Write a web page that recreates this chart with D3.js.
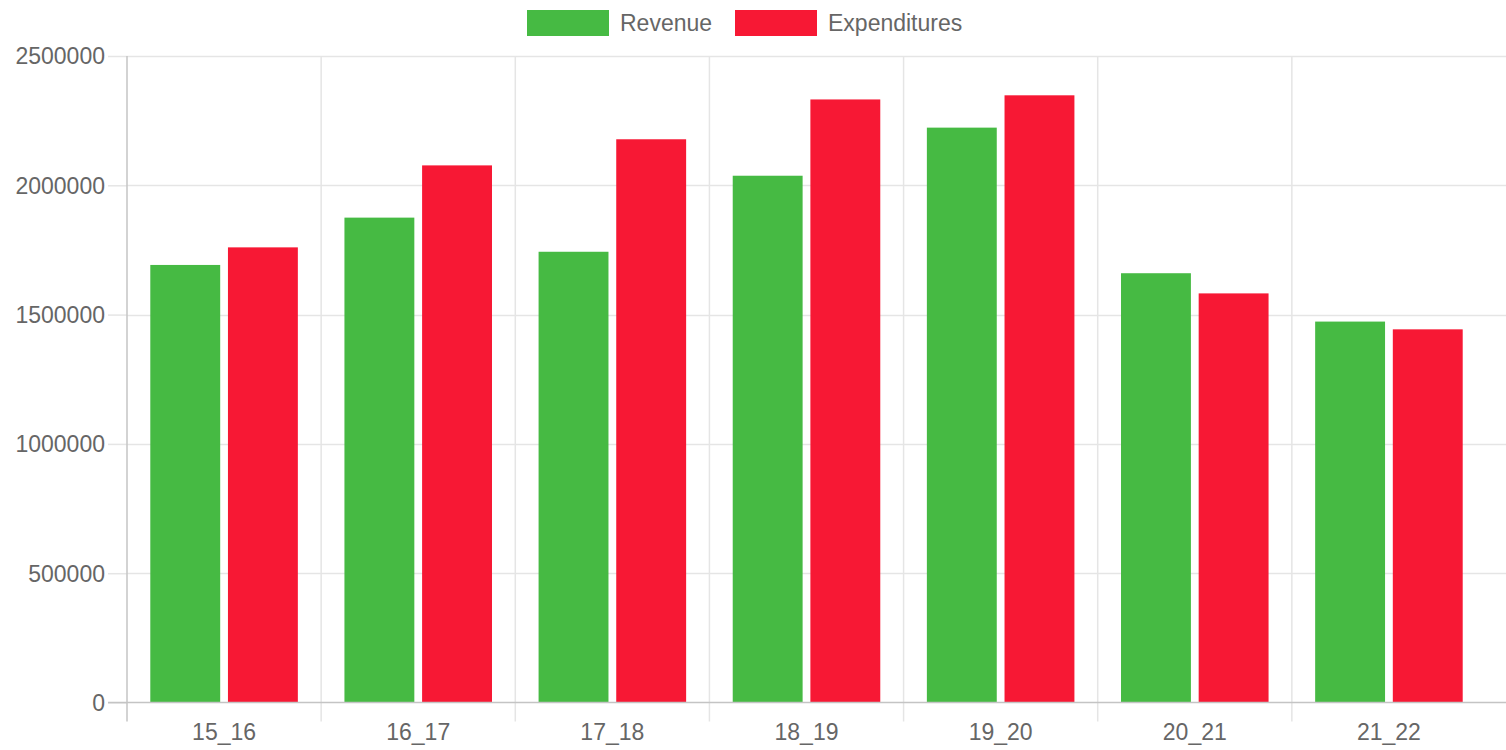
<!DOCTYPE html>
<html>
<head>
<meta charset="utf-8">
<script src="https://cdn.jsdelivr.net/npm/d3@7"></script>
<style>
  body { margin: 0; background: #fff; }
  svg { display: block; }
  text { font-family: "Liberation Sans", Arial, sans-serif; fill: #666; }
</style>
</head>
<body>
<div id="chart"></div>
<script>
// values
const categories = ["15_16", "16_17", "17_18", "18_19", "19_20", "20_21", "21_22"];
const seriesNames = ["Revenue", "Expenditures"];
const revenue = [1692000, 1875000, 1743000, 2037000, 2223000, 1660000, 1473000];
const expenditures = [1760000, 2077000, 2178000, 2332000, 2348000, 1582000, 1443000];
const yTicks = [0, 500000, 1000000, 1500000, 2000000, 2500000];
const colors = ["#46BA43", "#F71834"];

const width = 1506, height = 750;
const margin = {top: 56, right: 20, bottom: 47.5, left: 127};
const tickLen = 19;

const svg = d3.select("#chart").append("svg")
    .attr("width", width)
    .attr("height", height);

const x0 = d3.scaleBand()
    .domain(categories)
    .range([margin.left, width - margin.right])
    .padding(0);
const bw = x0.bandwidth();

// chart.js style: categoryPercentage 0.8, barPercentage 0.9
const x1 = d3.scaleBand()
    .domain(seriesNames)
    .range([0.1 * bw, 0.9 * bw])
    .paddingInner(0.1)
    .paddingOuter(0.05);

const y = d3.scaleLinear()
    .domain([0, 2500000])
    .range([height - margin.bottom, margin.top]);

const rows = categories.map((c, i) => ({
    key: c,
    values: [
        {name: seriesNames[0], value: revenue[i]},
        {name: seriesNames[1], value: expenditures[i]}
    ]
}));

// horizontal grid
svg.append("g")
    .attr("class", "grid")
  .selectAll("line")
    .data(yTicks.filter(d => d > 0))
    .enter().append("line")
    .attr("x1", margin.left)
    .attr("x2", width)
    .attr("y1", d => Math.round(y(d)) + 0.5)
    .attr("y2", d => Math.round(y(d)) + 0.5)
    .attr("stroke", "#e5e5e5")
    .attr("stroke-width", 1.5);

// vertical grid between categories (none at right edge)
svg.append("g")
    .attr("class", "vgrid")
  .selectAll("line")
    .data(categories.slice(1))
    .enter().append("line")
    .attr("x1", d => x0(d))
    .attr("x2", d => x0(d))
    .attr("y1", margin.top)
    .attr("y2", y(0) + tickLen)
    .attr("stroke", "#e5e5e5")
    .attr("stroke-width", 1.5);

// bars
svg.append("g")
  .selectAll("g")
    .data(rows)
    .enter().append("g")
    .attr("transform", d => `translate(${x0(d.key)},0)`)
  .selectAll("rect")
    .data(d => d.values)
    .enter().append("rect")
    .attr("x", d => x1(d.name))
    .attr("y", d => y(d.value))
    .attr("width", x1.bandwidth())
    .attr("height", d => y(0) - y(d.value))
    .attr("fill", (d, i) => colors[i]);

// y axis
const yAxis = d3.axisLeft(y)
    .tickValues(yTicks)
    .tickFormat(d3.format("d"))
    .tickSize(tickLen)
    .tickPadding(3);

const yg = svg.append("g")
    .attr("transform", `translate(${margin.left},0)`)
    .call(yAxis);
yg.select(".domain").remove();
yg.selectAll(".tick line").attr("stroke", "#e5e5e5").attr("stroke-width", 1.5);
yg.selectAll(".tick text").style("font-size", "23px").attr("fill", "#666").attr("dy", "0.34em");

svg.append("line")
    .attr("x1", margin.left).attr("x2", margin.left)
    .attr("y1", margin.top).attr("y2", y(0) + tickLen)
    .attr("stroke", "#c4c4c4")
    .attr("stroke-width", 1.5);

// x axis
const xAxis = d3.axisBottom(x0)
    .tickSize(0)
    .tickPadding(21);

const xg = svg.append("g")
    .attr("transform", `translate(0,${y(0)})`)
    .call(xAxis);
xg.select(".domain").remove();
xg.selectAll(".tick text").style("font-size", "23px").attr("fill", "#666");

svg.append("line")
    .attr("x1", margin.left - tickLen).attr("x2", width)
    .attr("y1", y(0)).attr("y2", y(0))
    .attr("stroke", "#c4c4c4")
    .attr("stroke-width", 1.5);

// legend
const legendItems = [
    {name: seriesNames[0], color: colors[0], x: 527},
    {name: seriesNames[1], color: colors[1], x: 735}
];
const legend = svg.append("g").attr("class", "legend");
legendItems.forEach(d => {
    legend.append("rect")
        .attr("x", d.x).attr("y", 10)
        .attr("width", 82).attr("height", 26)
        .attr("fill", d.color);
    legend.append("text")
        .attr("x", d.x + 93).attr("y", 23)
        .attr("dy", "0.35em")
        .style("font-size", "23px")
        .text(d.name);
});
</script>
</body>
</html>
